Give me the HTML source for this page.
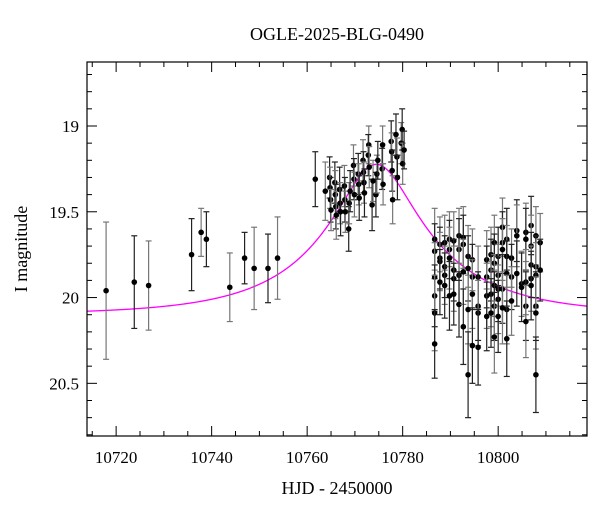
<!DOCTYPE html>
<html><head><meta charset="utf-8"><style>
body{margin:0;background:#fff;}
svg{display:block;font-family:"Liberation Serif",serif;}
</style></head><body>
<svg id="chart" width="600" height="512" viewBox="0 0 600 512">
<text x="337" y="40" text-anchor="middle" font-size="18">OGLE-2025-BLG-0490</text>
<text x="337" y="494" text-anchor="middle" font-size="18">HJD - 2450000</text>
<text transform="translate(27,249) rotate(-90)" text-anchor="middle" font-size="18">I magnitude</text>
<g id="grid"></g>
<g id="model"></g>
<g id="pts"></g>
<rect x="87" y="62" width="500" height="374" fill="none" stroke="#000" stroke-width="1.2"/>
</svg>
<script>
const xTicks=[10720,10740,10760,10780,10800];
const yTicks=[19,19.5,20,20.5];
const obsDays=[10717.9,10723.8,10726.8,10735.8,10737.8,10738.9,10743.8,10746.9,10748.9,10751.8,10753.8,
10761.7,10763.8,10764.7,10764.8,10764.9,10765.0,10765.8,10765.9,10766.0,10766.1,10766.8,10766.9,10767.0,10767.8,10767.9,10768.0,10768.7,10768.8,10769.0,10769.7,10769.8,10769.9,10770.7,10770.8,10770.9,10771.7,10771.8,10771.9,10772.0,10772.9,10772.8,10773.0,10773.6,10773.8,10774.4,10774.6,10774.8,10775.8,10775.7,10775.9,10777.6,10777.7,10777.8,10777.9,10778.6,10778.8,10778.9,10779.7,10779.9,10780.0,10780.3,
10786.7,10786.7,10786.7,10786.7,10786.7,10786.7,10787.8,10787.8,10787.8,10787.8,10788.8,10788.8,10788.8,10788.8,10789.8,10789.8,10789.8,10789.8,10790.7,10790.7,10790.7,10790.7,10791.8,10791.8,10791.8,10791.8,10792.7,10792.7,10792.7,10792.7,10793.7,10793.7,10793.7,10793.7,10794.6,10794.6,10794.6,10794.6,10795.8,10795.8,10795.8,10795.8,
10797.6,10797.6,10797.6,10797.6,10798.5,10798.5,10798.5,10798.5,10799.2,10799.2,10799.2,10799.2,10799.2,10800.0,10800.0,10800.0,10800.0,10800.0,10800.9,10800.9,10800.9,10800.9,10800.9,10801.8,10801.8,10801.8,10801.8,10801.8,10802.8,10802.8,10802.8,10803.9,10803.9,10803.9,10804.9,10804.9,10805.8,10805.8,10805.8,10805.8,10805.8,10806.9,10806.9,10806.9,10806.9,10806.9,10807.9,10807.9,10807.9,10807.9,10807.9,10807.9,10808.8,10808.8];
const obsMags=[19.96,19.91,19.93,19.75,19.62,19.66,19.94,19.77,19.83,19.83,19.77,
19.31,19.38,19.30,19.36,19.43,19.49,19.33,19.40,19.47,19.52,19.37,19.45,19.50,19.35,19.43,19.50,19.60,19.45,19.38,19.23,19.31,19.40,19.28,19.34,19.42,19.20,19.27,19.33,19.39,19.11,19.17,19.24,19.46,19.32,19.40,19.28,19.20,19.11,19.25,19.34,19.09,19.15,19.26,19.43,19.05,19.18,19.30,19.10,19.02,19.22,19.14,
19.66,19.73,19.88,19.99,20.09,20.27,19.69,19.77,19.79,19.91,19.68,19.82,19.87,19.93,19.66,19.72,19.77,19.99,19.67,19.84,19.89,19.98,19.64,19.72,19.87,20.04,19.65,19.69,19.85,20.17,19.76,19.83,20.07,20.45,19.78,19.88,19.98,20.28,19.88,20.05,20.09,20.29,
19.78,19.88,19.99,20.11,19.75,19.84,19.98,20.09,19.68,19.80,19.93,20.05,20.23,19.76,19.87,19.95,20.01,20.11,19.59,19.68,19.72,19.95,20.06,19.66,19.76,19.86,20.07,20.24,19.77,19.88,20.02,19.61,19.64,19.86,19.92,19.94,19.62,19.66,19.91,20.05,20.14,19.58,19.70,19.81,19.89,19.93,19.64,19.82,19.87,20.05,20.09,20.45,19.68,19.84];
const obsErrs=[0.40,0.27,0.26,0.21,0.14,0.16,0.20,0.15,0.24,0.20,0.24,
0.16,0.17,0.12,0.12,0.13,0.12,0.12,0.14,0.13,0.14,0.13,0.12,0.14,0.12,0.13,0.12,0.13,0.12,0.12,0.12,0.12,0.13,0.12,0.12,0.13,0.12,0.12,0.12,0.14,0.11,0.12,0.12,0.15,0.12,0.13,0.11,0.11,0.11,0.12,0.12,0.12,0.11,0.12,0.14,0.12,0.11,0.13,0.12,0.12,0.12,0.11,
0.18,0.16,0.20,0.18,0.22,0.20,0.16,0.18,0.17,0.19,0.16,0.18,0.17,0.19,0.16,0.17,0.18,0.20,0.17,0.18,0.19,0.18,0.16,0.18,0.17,0.19,0.18,0.17,0.19,0.22,0.18,0.19,0.20,0.25,0.18,0.19,0.20,0.22,0.18,0.20,0.19,0.22,
0.17,0.18,0.19,0.20,0.16,0.18,0.19,0.20,0.16,0.17,0.18,0.20,0.21,0.17,0.18,0.19,0.20,0.21,0.17,0.18,0.18,0.20,0.21,0.18,0.18,0.19,0.20,0.22,0.17,0.19,0.20,0.18,0.18,0.19,0.19,0.20,0.17,0.18,0.19,0.20,0.21,0.17,0.18,0.19,0.19,0.20,0.17,0.18,0.19,0.20,0.21,0.22,0.17,0.18];
const modelBase=20.10, modelT0=10774.5, modelU0=0.3, modelTE=26, modelFs=0.508;

const X0=10713.9,X1=10818.6,Y0=18.627,Y1=20.807;
const L=87,R=587,T=62,B=436;
const sx=d=>L+(d-X0)/(X1-X0)*(R-L);
const sy=m=>T+(m-Y0)/(Y1-Y0)*(B-T);
const NS='http://www.w3.org/2000/svg';
function mk(tag,attrs,parent){const e=document.createElementNS(NS,tag);for(const k in attrs)e.setAttribute(k,attrs[k]);parent.appendChild(e);return e;}
const grid=document.getElementById('grid');
for(let d=10715;d<=10815;d+=5){
  const major=xTicks.includes(d);const len=major?10:5;const x=sx(d);
  const t1=mk('line',{x1:x,x2:x,y1:B,y2:B-len,stroke:'#000'},grid);
  
  
  const t2=mk('line',{x1:x,x2:x,y1:T,y2:T+len,stroke:'#000'},grid);
  
  
}
xTicks.forEach(d=>{
  const t=mk('text',{x:sx(d),y:B+27,'text-anchor':'middle','font-size':17},grid);
  t.textContent=d;
  
  
});
for(let i=0;i<=21;i++){
  const m=18.7+i*0.1;if(m>Y1)break;
  const major=yTicks.some(v=>Math.abs(v-m)<1e-6);const len=major?10:5;const y=sy(m);
  const t1=mk('line',{x1:L,x2:L+len,y1:y,y2:y,stroke:'#000'},grid);
  
  
  const t2=mk('line',{x1:R,x2:R-len,y1:y,y2:y,stroke:'#000'},grid);
  
  
}
yTicks.forEach(m=>{
  const t=mk('text',{x:L-8,y:sy(m)+6,'text-anchor':'end','font-size':17},grid);
  t.textContent=m;
  
  
});
let dstr='';
for(let px=L;px<=R;px+=1){
  const t=X0+(px-L)/(R-L)*(X1-X0);
  const u=Math.sqrt(modelU0*modelU0+Math.pow((t-modelT0)/modelTE,2));
  const A=(u*u+2)/(u*Math.sqrt(u*u+4));
  const m=modelBase-2.5*Math.log10(modelFs*A+1-modelFs);
  dstr+=(px===L?'M':'L')+px.toFixed(1)+','+sy(m).toFixed(2);
}
const mp=mk('path',{d:dstr,fill:'none',stroke:'#ff00ff','stroke-width':1.3},document.getElementById('model'));


const pts=document.getElementById('pts');
obsDays.forEach((d,i)=>{
  const x=sx(d),y=sy(obsMags[i]),y1=sy(obsMags[i]-obsErrs[i]),y2=sy(obsMags[i]+obsErrs[i]);
  const g=mk('g',{},pts);
  
  
  const c=i%2?'#222':'#777';
  mk('line',{x1:x,x2:x,y1:Math.max(T,y1),y2:Math.min(B,y2),stroke:c,'stroke-width':1.2},g);
  if(y1>T)mk('line',{x1:x-3,x2:x+3,y1:y1,y2:y1,stroke:c,'stroke-width':1.2},g);
  if(y2<B)mk('line',{x1:x-3,x2:x+3,y1:y2,y2:y2,stroke:c,'stroke-width':1.2},g);
  mk('circle',{cx:x,cy:y,r:2.8,fill:'#000'},g);
});
</script>
</body></html>
